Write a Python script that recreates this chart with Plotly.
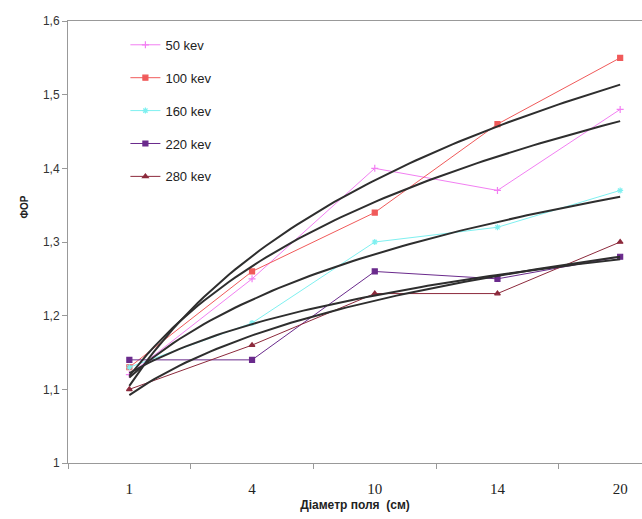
import numpy as np
import plotly.graph_objects as go

categories = ["1", "4", "10", "14", "20"]
series_names = ["50 kev", "100 kev", "160 kev", "220 kev", "280 kev"]
kev50 = [1.12, 1.25, 1.40, 1.37, 1.48]
kev100 = [1.13, 1.26, 1.34, 1.46, 1.55]
kev160 = [1.13, 1.19, 1.30, 1.32, 1.37]
kev220 = [1.14, 1.14, 1.26, 1.25, 1.28]
kev280 = [1.10, 1.16, 1.23, 1.23, 1.30]
y_tick_vals = [1.0, 1.1, 1.2, 1.3, 1.4, 1.5, 1.6]
y_tick_text = ["1", "1,1", "1,2", "1,3", "1,4", "1,5", "1,6"]

series = [kev50, kev100, kev160, kev220, kev280]
colors = ["#f27ff2", "#f05a5a", "#7ff0f0", "#6a2a8c", "#8c2a3c"]
symbols = ["cross-thin", "square", "asterisk-open", "square", "triangle-up"]

fig = go.Figure()
for name, vals, col, sym in zip(series_names, series, colors, symbols):
    fig.add_trace(go.Scatter(
        x=categories, y=vals, name=name, mode="lines+markers",
        line=dict(color=col, width=1),
        marker=dict(color=col, symbol=sym, size=5,
                    line=dict(color=col, width=1.2)),
        legendgroup=name,
    ))

# logarithmic trendlines (Excel-style, x = 1..n)
idx = np.arange(1, len(categories) + 1)
for vals in series:
    a, b = np.polyfit(np.log(idx), np.array(vals), 1)
    xs = np.linspace(1, len(categories), 80)
    ys = a * np.log(xs) + b
    fig.add_trace(go.Scatter(
        x=xs - 1, y=ys, mode="lines", showlegend=False, hoverinfo="skip",
        line=dict(color="#2e2e2e", width=2), xaxis="x2",
    ))

fig.update_layout(
    width=642, height=519,
    margin=dict(l=68, r=0, t=21, b=56),
    paper_bgcolor="white", plot_bgcolor="white",
    showlegend=True,
    legend=dict(x=0.1, y=0.98, xanchor="left", yanchor="top",
                font=dict(family="Liberation Sans, Arial", size=13, color="#222"),
                bgcolor="rgba(0,0,0,0)", tracegroupgap=13, itemwidth=30),
    xaxis=dict(type="category", range=[-0.5, 4.178],
               tickson="boundaries", ticks="outside", ticklen=5,
               tickcolor="#999", showline=True, linecolor="#999",
               linewidth=1, mirror=True, showgrid=False, zeroline=False,
               ticklabelstandoff=12,
               tickfont=dict(family="Liberation Serif, Times New Roman", size=15, color="#222"),
               title=dict(text="<b>Діаметр поля  (см)</b>",
                          font=dict(family="Liberation Sans, Arial", size=12, color="#222"),
                          standoff=4)),
    xaxis2=dict(overlaying="x", range=[-0.5, 4.178], visible=False,
                showgrid=False, zeroline=False),
    yaxis=dict(range=[1, 1.6], tickvals=y_tick_vals, ticktext=y_tick_text,
               ticks="outside", ticklen=5, tickcolor="#999",
               showline=True, linecolor="#999", linewidth=1,
               showgrid=False, zeroline=False,
               tickfont=dict(family="Liberation Sans, Arial", size=12, color="#333")),
    annotations=[dict(text="<b>ФОР</b>", x=0, y=0, xref="paper", yref="paper",
                      showarrow=False, textangle=-90,
                      font=dict(family="Liberation Sans, Arial", size=10, color="#222"))],
)
# convert annotation pixel positions to paper coordinates
fig.layout.annotations[0].x = (17 - 68) / 574
fig.layout.annotations[0].y = (463 - 207) / 442

fig.write_html("out.html")
